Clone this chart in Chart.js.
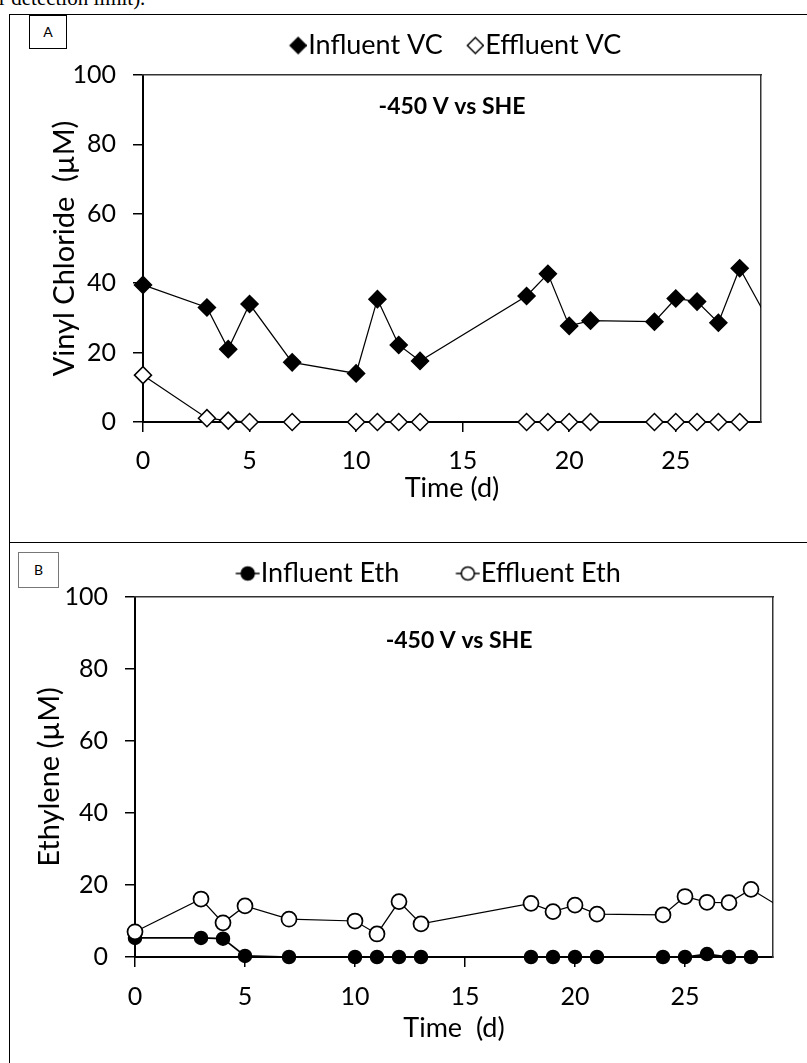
<!DOCTYPE html>
<html><head><meta charset="utf-8">
<script src="https://cdn.jsdelivr.net/npm/chart.js@4.4.1/dist/chart.umd.min.js"></script>
<style>
html,body{margin:0;padding:0;background:#fff;}
body{width:807px;height:1063px;overflow:hidden;position:relative;font-family:Lato,sans-serif;}
.panel{position:absolute;box-sizing:border-box;border:1px solid #000;}
#pA{left:9px;top:14px;width:900px;height:529px;}
#pB{left:9px;top:542px;width:900px;height:600px;border-top:none;}
.tag{position:absolute;box-sizing:border-box;background:#fff;text-align:center;font-family:Lato,sans-serif;font-size:14px;color:#000;}
#tagA{left:29px;top:15px;width:38px;height:34px;border:1px solid #000;line-height:32px;}
#tagB{left:18px;top:552px;width:41px;height:36px;border:1px solid #777;line-height:34px;}
canvas{position:absolute;left:0;}
#cA{top:0;}
#cB{top:542px;}
#cap{position:absolute;left:-1px;top:-12px;font-family:'Liberation Serif',serif;font-size:21px;line-height:21px;white-space:nowrap;color:#000;}
</style></head>
<body>
<div id="cap">r detection limit).</div>
<div class="panel" id="pA"></div>
<div class="panel" id="pB"></div>
<canvas id="cA" width="807" height="542"></canvas>
<canvas id="cB" width="807" height="521"></canvas>
<div class="tag" id="tagA">A</div>
<div class="tag" id="tagB">B</div>
<script>
// ---- data ----
const days        = [0, 3, 4, 5, 7, 10, 11, 12, 13, 18, 19, 20, 21, 24, 25, 26, 27, 28, 30];
const influentVC  = [39.5, 33.0, 21.0, 34.0, 17.2, 14.0, 35.4, 22.2, 17.6, 36.3, 42.7, 27.7, 29.2, 28.9, 35.6, 34.7, 28.6, 44.3, 22.0];
const effluentVC  = [13.5, 1.1, 0.4, 0, 0, 0, 0, 0, 0, 0, 0, 0, 0, 0, 0, 0, 0, 0, null];
const influentEth = [5.3, 5.3, 5.1, 0.3, 0, 0, 0, 0, 0, 0, 0, 0, 0, 0, 0, 0.8, 0, 0, null];
const effluentEth = [7.0, 16.1, 9.5, 14.2, 10.5, 10.0, 6.4, 15.4, 9.2, 14.9, 12.6, 14.4, 11.9, 11.7, 16.8, 15.2, 15.1, 18.8, 11.4];
const xTicks = [0, 5, 10, 15, 20, 25];
const yTicks = [0, 20, 40, 60, 80, 100];
const xMax = 29, yMax = 100;

Chart.defaults.font.family = 'Lato';
Chart.defaults.color = '#000';

function pts(ys) {
  return days.map((d, i) => ({x: d, y: ys[i]})).filter(p => p.y !== null);
}

function markerImage(kind, fill, w, h, cx) {
  const c = document.createElement('canvas');
  c.width = w; c.height = h;
  const g = c.getContext('2d');
  const cy = h / 2;
  g.strokeStyle = '#000'; g.fillStyle = fill; g.lineWidth = 1.5;
  if (kind === 'diamond') {
    const r = 8;
    g.beginPath();
    g.moveTo(cx - r, cy); g.lineTo(cx, cy - r); g.lineTo(cx + r, cy); g.lineTo(cx, cy + r);
    g.closePath(); g.fill(); g.stroke();
  } else {
    g.beginPath(); g.moveTo(cx - 12, cy); g.lineTo(cx + 12, cy); g.stroke();
    g.beginPath(); g.arc(cx, cy, 6.5, 0, Math.PI * 2); g.fill(); g.stroke();
  }
  return c;
}

const noteLabel = {
  id: 'noteLabel',
  afterDatasetsDraw(chart, args, opts) {
    const {ctx, chartArea: a} = chart;
    ctx.save();
    ctx.font = 'bold 23px Lato';
    ctx.fillStyle = '#000';
    ctx.textAlign = 'center';
    ctx.textBaseline = 'middle';
    ctx.fillText(opts.text, a.left + opts.fx * (a.right - a.left), a.top + opts.fy * (a.bottom - a.top));
    ctx.restore();
  }
};

function axisSet(o) {
  const tickFont = {family: 'Lato', size: 25};
  const titleFont = {family: 'Lato', size: 27};
  return {
    x: {
      type: 'linear', position: 'bottom', min: 0, max: xMax,
      afterBuildTicks: s => { s.ticks = xTicks.map(v => ({value: v})); },
      afterFit: s => { s.height = o.xH; },
      grid: {display: true, drawOnChartArea: false, drawTicks: true, tickLength: 10, color: '#000', lineWidth: 1.5},
      border: {display: true, color: '#000', width: 2},
      ticks: {color: '#000', font: tickFont, padding: o.xPad, maxRotation: 0, autoSkip: false},
      title: {display: true, text: o.xTitle, color: '#000', font: titleFont, padding: {top: 0, bottom: o.xTitlePad}}
    },
    y: {
      type: 'linear', position: 'left', min: 0, max: yMax,
      afterBuildTicks: s => { s.ticks = yTicks.map(v => ({value: v})); },
      afterFit: s => { s.width = o.yW; },
      grid: {display: true, drawOnChartArea: false, drawTicks: true, tickLength: 10, color: '#000', lineWidth: 1.5},
      border: {display: true, color: '#000', width: 2},
      ticks: {color: '#000', font: tickFont, padding: 17},
      title: {display: true, text: o.yTitle, color: '#000', font: {family: 'Lato', size: o.yTitleSize}, padding: {top: o.yTitlePad, bottom: 0}}
    },
    xTop: {
      type: 'linear', position: 'top', min: 0, max: xMax,
      afterFit: s => { s.height = o.topH; },
      grid: {display: false, drawTicks: false},
      ticks: {display: false},
      border: {display: true, color: '#333', width: 1.5}
    },
    yRight: {
      type: 'linear', position: 'right', min: 0, max: yMax,
      afterFit: s => { s.width = 0; },
      grid: {display: false, drawTicks: false},
      ticks: {display: false},
      border: {display: true, color: '#333', width: 1.5}
    }
  };
}

const clipBox = {left: 15, top: 15, right: 0, bottom: 15};

// ---- Panel A ----
const legA1 = markerImage('diamond', '#000', 36, 28, 27.5);
const legA2 = markerImage('diamond', '#fff', 36, 28, 27.5);
new Chart(document.getElementById('cA'), {
  type: 'line',
  data: {
    datasets: [
      {label: 'Influent VC', data: pts(influentVC), borderColor: '#000', borderWidth: 1.25,
       pointStyle: 'rectRot', pointRadius: 8.5, pointBorderWidth: 1.5, pointBorderColor: '#000',
       pointBackgroundColor: '#000', backgroundColor: '#000', clip: clipBox, order: 1},
      {label: 'Effluent VC', data: pts(effluentVC), borderColor: '#000', borderWidth: 1.25,
       pointStyle: 'rectRot', pointRadius: 8.5, pointBorderWidth: 1.5, pointBorderColor: '#000',
       pointBackgroundColor: '#fff', backgroundColor: '#fff', clip: clipBox, order: 0}
    ]
  },
  options: {
    responsive: false, animation: false, devicePixelRatio: 1, events: [],
    layout: {padding: {top: 15, left: 0, right: 46, bottom: 30}},
    scales: axisSet({xH: 90, xPad: 14, xTitle: 'Time (d)', xTitlePad: 8,
                     yW: 143, yTitle: 'Vinyl Chloride  (µM)', yTitleSize: 29, yTitlePad: 47, topH: 6}),
    plugins: {
      legend: {
        position: 'top', fullSize: false, align: 'center',
        labels: {
          usePointStyle: true, pointStyleWidth: 12, padding: 17, color: '#000',
          font: {family: 'Lato', size: 27},
          generateLabels: () => [
            {text: 'Influent VC', pointStyle: legA1, fillStyle: '#000', strokeStyle: '#000', lineWidth: 0, hidden: false, datasetIndex: 0},
            {text: 'Effluent VC', pointStyle: legA2, fillStyle: '#fff', strokeStyle: '#000', lineWidth: 0, hidden: false, datasetIndex: 1}
          ]
        }
      },
      tooltip: {enabled: false},
      noteLabel: {text: '-450 V vs SHE', fx: 0.50, fy: 0.092}
    }
  },
  plugins: [noteLabel]
});

// ---- Panel B ----
const legB1 = markerImage('circle', '#000', 84, 28, 71.5);
const legB2 = markerImage('circle', '#fff', 84, 28, 71.5);
new Chart(document.getElementById('cB'), {
  type: 'line',
  data: {
    datasets: [
      {label: 'Influent Eth', data: pts(influentEth), borderColor: '#000', borderWidth: 1.75,
       pointStyle: 'circle', pointRadius: 6.5, pointBorderWidth: 1.5, pointBorderColor: '#000',
       pointBackgroundColor: '#000', backgroundColor: '#000', clip: clipBox, order: 1},
      {label: 'Effluent Eth', data: pts(effluentEth), borderColor: '#000', borderWidth: 1.25,
       pointStyle: 'circle', pointRadius: 7.5, pointBorderWidth: 1.75, pointBorderColor: '#000',
       pointBackgroundColor: '#fff', backgroundColor: '#fff', clip: clipBox, order: 0}
    ]
  },
  options: {
    responsive: false, animation: false, devicePixelRatio: 1, events: [],
    layout: {padding: {top: 8, left: 37, right: 34, bottom: 16}},
    scales: axisSet({xH: 90, xPad: 15, xTitle: 'Time  (d)', xTitlePad: 3,
                     yW: 98, yTitle: 'Ethylene (µM)', yTitleSize: 29, yTitlePad: -5, topH: 0}),
    plugins: {
      legend: {
        position: 'top', fullSize: true, align: 'center',
        labels: {
          usePointStyle: true, pointStyleWidth: 58, padding: 10, color: '#000',
          font: {family: 'Lato', size: 27},
          generateLabels: () => [
            {text: 'Influent Eth', pointStyle: legB1, fillStyle: '#000', strokeStyle: '#000', lineWidth: 0, hidden: false, datasetIndex: 0},
            {text: 'Effluent Eth', pointStyle: legB2, fillStyle: '#fff', strokeStyle: '#000', lineWidth: 0, hidden: false, datasetIndex: 1}
          ]
        }
      },
      tooltip: {enabled: false},
      noteLabel: {text: '-450 V vs SHE', fx: 0.508, fy: 0.12}
    }
  },
  plugins: [noteLabel]
});
</script>
</body></html>
